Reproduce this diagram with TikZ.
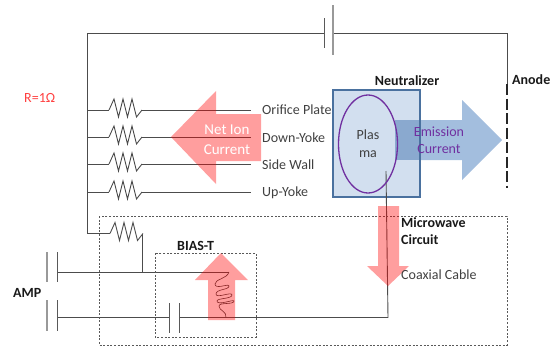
\documentclass[tikz,border=0pt]{standalone}
\usepackage{fontspec}
\setmainfont{Carlito}
\definecolor{boxfill}{HTML}{D2DFEF}
\definecolor{boxline}{HTML}{4A719F}
\definecolor{arrowblue}{HTML}{A3BEDE}
\definecolor{overlapblue}{HTML}{8AA9CF}
\definecolor{pinkfill}{HTML}{FF0000}
\definecolor{plasmaline}{HTML}{7030A0}
\tikzset{
  x=1pt,y=-1pt,
  wire/.style={draw=black!70,line width=0.9pt},
  plate/.style={draw=black!65,line width=0.9pt},
  gplate/.style={draw=black!40,line width=1.1pt},
  dbox/.style={draw=black!65,line width=0.7pt,dash pattern=on 2pt off 1.6pt},
  pinkarrow/.style={fill=pinkfill,fill opacity=0.38,draw=none},
  lab/.style={inner sep=0pt,anchor=west,font=\fontsize{14}{16}\selectfont,text=black!75},
  blab/.style={inner sep=0pt,font=\fontsize{14}{16}\selectfont\bfseries,text=black!90},
  clab/.style={inner sep=0pt,align=center},
  res/.pic={\draw[wire] (0,0) -- (5,-11) -- (9.5,7) -- (14,-11) -- (18.5,7) -- (23,-11) -- (27.5,7) -- (33,0);}
}
\begin{document}
\begin{tikzpicture}
\useasboundingbox (0,0) rectangle (554,346);
% coordinates
\coordinate (tl) at (87,33); \coordinate (tr) at (507,33);
\coordinate (bt1) at (324.5,33); \coordinate (bt2) at (333,33);
\coordinate (anT) at (507,84); \coordinate (anB) at (507,188);
\foreach \n/\y in {a/110,b/137,c/164,d/192}{
  \coordinate (\n L) at (87,\y); \coordinate (\n R1) at (109,\y);
  \coordinate (\n R2) at (142,\y); \coordinate (\n E) at (251,\y);
}
\coordinate (eL) at (87,233.5); \coordinate (eR1) at (110,233.5); \coordinate (eR2) at (142,233.5);
\coordinate (top) at (142,272); \coordinate (ampU) at (57,272); \coordinate (indT) at (229,272);
\coordinate (ampL) at (57,317.5); \coordinate (capL) at (169,317.5); \coordinate (capR) at (179,317.5);
\coordinate (indB) at (226,317.5); \coordinate (coaxB) at (388,317.5); \coordinate (coaxT) at (386,171);
% fills
\fill[boxfill] (333,90) rectangle (420,197);
\fill[arrowblue] (420,120) -- (462,120) -- (462,100) -- (502,140) -- (462,180) -- (462,160) -- (420,160) -- cycle;
\fill[overlapblue] (395,120) rectangle (420,160);
\draw[draw=boxline,line width=1.2pt] (333,90) rectangle (420,197);
% wires
\draw[wire] (bt1) -- (tl) -- (eL) -- (eR1);
\draw[wire] (bt2) -- (tr) -- (anT);
\draw[black!85,line width=1.2pt,dash pattern=on 11pt off 3.5pt] (anT) -- (anB);
\draw[plate] (324.5,18) -- (324.5,48);
\draw[gplate] (333,5) -- (333,55);
\foreach \n in {a,b,c,d}{
  \draw[wire] (\n L) -- (\n R1);
  \pic at (\n R1) {res};
  \draw[wire] (\n R2) -- (\n E);
}
\pic at (eR1) {res};
\draw[wire] (eR2) -- (top);
\draw[wire] (ampU) -- (indT);
\draw[wire] (ampL) -- (capL);
\draw[wire] (capR) -- (coaxB) -- (coaxT);
\draw[gplate] (47,252) -- (47,282);
\draw[gplate] (47,300) -- (47,331);
\draw[plate] (57,252) -- (57,282);
\draw[plate] (57,300) -- (57,331);
\draw[plate] (169,303) -- (169,333);
\draw[plate] (179,303) -- (179,333);
% inductor
\draw[draw=black!75,line width=0.6pt] (indT) .. controls (227,279) and (215,279) .. (215,284)
  .. controls (215,290) and (229,283) .. (229,286)
  .. controls (229,290) and (216,289) .. (216,294)
  .. controls (216,299) and (232,291) .. (232,295)
  .. controls (232,299) and (217,298) .. (217,301)
  .. controls (217,306) and (234,299) .. (234,301)
  .. controls (234,305) and (219,302) .. (219,306)
  .. controls (219,311) and (227,311) .. (indB);
% dashed boxes
\draw[dbox] (99,216) rectangle (507,345);
\draw[dbox] (155,253) rectangle (256,337);
% pink arrows
\fill[pinkarrow] (171,137) -- (216,91) -- (216,114) -- (261,114) -- (261,161) -- (216,161) -- (216,184) -- cycle;
\fill[pinkarrow] (378,206) -- (399,206) -- (399,266) -- (409,266) -- (388,286) -- (367,266) -- (378,266) -- cycle;
\fill[pinkarrow] (221,253) -- (248,280) -- (235,280) -- (235,320) -- (208,320) -- (208,280) -- (195,280) -- cycle;
% ellipse
\draw[draw=plasmaline,line width=1.3pt] (368,144) ellipse [x radius=29.5,y radius=49];
% labels
\node[lab,text=red!75] (rlab) at (24,98) {R=1Ω};
\node[lab] (l1) at (262,110) {Orifice Plate};
\node[lab] (l2) at (262,137.5) {Down-Yoke};
\node[lab] (l3) at (262,165) {Side Wall};
\node[lab] (l4) at (262,192.5) {Up-Yoke};
\node[clab,text=white,font=\fontsize{15}{20}\selectfont] (nic) at (227,140) {Net Ion\\Current};
\node[clab,text=black!75,font=\fontsize{14}{18}\selectfont] (pl) at (368,144) {Plas\\ma};
\node[clab,text=plasmaline,font=\fontsize{14}{17}\selectfont] (em) at (439,140.5) {Emission\\Current};
\node[blab] (neu) at (407,81) {Neutralizer};
\node[blab,anchor=west] (an) at (512,80) {Anode};
\node[blab,anchor=west,align=left,font=\fontsize{14}{17}\selectfont\bfseries] (mw) at (401,231.5) {Microwave\\Circuit};
\node[lab] (cc) at (401,275) {Coaxial Cable};
\node[blab,anchor=west] (amp) at (13,293) {AMP};
\node[blab,anchor=west] (bt) at (177,246) {BIAS-T};
\end{tikzpicture}
\end{document}
